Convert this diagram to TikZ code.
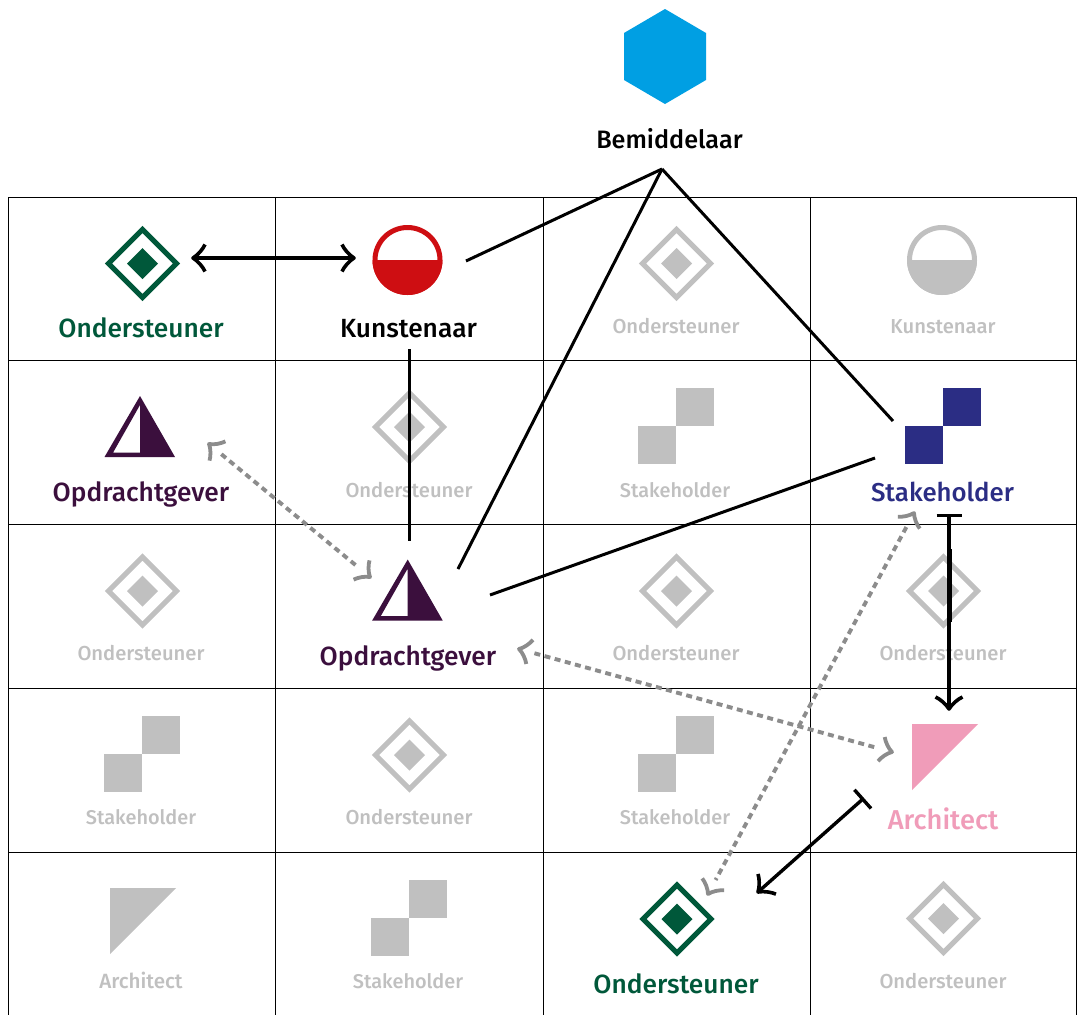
\documentclass[tikz,border=0pt]{standalone}
\usepackage{fontspec}
\setmainfont{Fira Sans}
\newfontfamily\labelfont{Fira Sans Medium}
\usetikzlibrary{arrows.meta}
\definecolor{cgreen}{HTML}{00583A}
\definecolor{cpurple}{HTML}{3B0F3D}
\definecolor{cblue}{HTML}{2B2D84}
\definecolor{cred}{HTML}{CE0E12}
\definecolor{cpink}{HTML}{F09CB9}
\definecolor{cgrey}{HTML}{C0C0C0}
\definecolor{chex}{HTML}{009FE3}
\definecolor{cdash}{HTML}{8C8C8C}
\pgfdeclarearrow{
  name=BarbSolid, cache=false,
  setup code={\pgfarrowssettipend{0pt}\pgfarrowssetbackend{-12pt}\pgfarrowssetlineend{-1pt}\pgfarrowssetvisualbackend{-1pt}},
  drawing code={
    \pgfsetroundjoin\pgfsetbuttcap\pgfsetdash{}{0pt}\pgfsetlinewidth{3.6pt}
    \pgfpathmoveto{\pgfqpoint{-12pt}{13.5pt}}
    \pgfpathcurveto{\pgfqpoint{-10pt}{9pt}}{\pgfqpoint{-5pt}{3pt}}{\pgfqpoint{0pt}{0pt}}
    \pgfpathcurveto{\pgfqpoint{-5pt}{-3pt}}{\pgfqpoint{-10pt}{-9pt}}{\pgfqpoint{-12pt}{-13.5pt}}
    \pgfusepathqstroke}
}
\pgfdeclarearrow{
  name=BarbDash, cache=false,
  setup code={\pgfarrowssettipend{0pt}\pgfarrowssetbackend{-12pt}\pgfarrowssetlineend{-16pt}\pgfarrowssetvisualbackend{-16pt}},
  drawing code={
    \pgfsetroundjoin\pgfsetbuttcap\pgfsetdash{}{0pt}\pgfsetlinewidth{3.8pt}
    \pgfpathmoveto{\pgfqpoint{-11pt}{12.5pt}}
    \pgfpathcurveto{\pgfqpoint{-9pt}{8pt}}{\pgfqpoint{-4.5pt}{2.5pt}}{\pgfqpoint{0pt}{0pt}}
    \pgfpathcurveto{\pgfqpoint{-4.5pt}{-2.5pt}}{\pgfqpoint{-9pt}{-8pt}}{\pgfqpoint{-11pt}{-12.5pt}}
    \pgfusepathqstroke}
}
\newcommand{\IconDiamond}[3]{%
  \draw[#3,line width=5pt,miter limit=10] (#1-34,#2) -- (#1,#2-34) -- (#1+34,#2) -- (#1,#2+34) -- cycle;
  \fill[#3] (#1-15.5,#2) -- (#1,#2-15.5) -- (#1+15.5,#2) -- (#1,#2+15.5) -- cycle;}
\newcommand{\IconCircle}[3]{%
  \fill[#3] (#1-35,#2) arc[start angle=180,end angle=360,x radius=35pt,y radius=35pt] -- cycle;
  \draw[#3,line width=5pt] (#1,#2) circle[radius=32.5pt];}
\newcommand{\IconTri}[3]{%
  \fill[#3,even odd rule] (#1,#2) -- (#1+35,#2+61) -- (#1-35.5,#2+61) -- cycle
     (#1,#2+9) -- (#1,#2+56.7) -- (#1-27,#2+56.7) -- cycle;}
\newcommand{\IconStake}[3]{%
  \fill[#3] (#1-38,#2) rectangle (#1,#2+38);
  \fill[#3] (#1,#2-38) rectangle (#1+38,#2);}
\newcommand{\IconArch}[3]{%
  \fill[#3] (#1-32,#2) -- (#1+34,#2) -- (#1-32,#2+66) -- cycle;}
\tikzset{
  gridline/.style={line width=1pt,black},
  biglabel/.style={font=\fontsize{#1}{30}\labelfont,inner sep=0pt,anchor=base},
  biglabel/.default=26.3,
  smalllabel/.style={font=\fontsize{#1}{24}\labelfont,inner sep=0pt,anchor=base,text=cgrey},
  smalllabel/.default=20.2,
  assoc/.style={line width=3pt,black},
  solidarrow/.style={line width=3.4pt,black},
  dasharrow/.style={line width=3.9pt,cdash,dash pattern=on 6pt off 4.5pt},
}
\begin{document}
\begin{tikzpicture}[x=1pt,y=-1pt]
\useasboundingbox (0,0) rectangle (1077,1015);
\fill[white] (0,0) rectangle (1077,1015);
% grid
\foreach \gx in {8.5,275.5,543,810,1076.5} \draw[gridline] (\gx,197) -- (\gx,1015);
\foreach \gy in {197,360.5,524,688,852} \draw[gridline] (8.5,\gy) -- (1076.5,\gy);
% grey icons
\IconDiamond{676.5}{263.5}{cgrey}
\IconCircle{942}{260}{cgrey}
\IconDiamond{409.5}{427}{cgrey}
\IconStake{676}{426}{cgrey}
\IconDiamond{142.5}{591}{cgrey}
\IconDiamond{676.5}{591}{cgrey}
\IconDiamond{943.5}{591}{cgrey}
\IconStake{142}{754}{cgrey}
\IconDiamond{409.5}{755}{cgrey}
\IconStake{676}{754}{cgrey}
\IconArch{142}{888}{cgrey}
\IconStake{409}{918}{cgrey}
\IconDiamond{943.5}{918.5}{cgrey}
% grey labels
\node[smalllabel] (g1) at (676,333) {Ondersteuner};
\node[smalllabel] (g2) at (943,333) {Kunstenaar};
\node[smalllabel] (g3) at (409,497) {Ondersteuner};
\node[smalllabel=19.9] (g4) at (675,497) {Stakeholder};
\node[smalllabel] (g5) at (141,660) {Ondersteuner};
\node[smalllabel] (g6) at (676,660) {Ondersteuner};
\node[smalllabel] (g7) at (943,660) {Ondersteuner};
\node[smalllabel=19.9] (g8) at (141,824) {Stakeholder};
\node[smalllabel] (g9) at (409,824) {Ondersteuner};
\node[smalllabel=19.9] (g10) at (675,824) {Stakeholder};
\node[smalllabel=20.6] (g11) at (141,988) {Architect};
\node[smalllabel=19.9] (g12) at (408,988) {Stakeholder};
\node[smalllabel] (g13) at (943,988) {Ondersteuner};
% coloured icons
\fill[chex] (665,9) -- (706,33) -- (706,80) -- (665,104) -- (624,80) -- (624,33) -- cycle;
\IconDiamond{142.5}{263.5}{cgreen}
\IconCircle{407.5}{260}{cred}
\IconTri{140}{396}{cpurple}
\IconTri{407.7}{559.5}{cpurple}
\IconStake{943}{426}{cblue}
\IconArch{944}{724}{cpink}
\IconDiamond{677}{919}{cgreen}
% coloured labels
\node[biglabel=25.2,text=black] (bem) at (669.5,148) {Bemiddelaar};
\node[biglabel,text=cgreen] (ond1) at (141,337) {Ondersteuner};
\node[biglabel,text=black] (kun) at (408.5,337) {Kunstenaar};
\node[biglabel,text=cpurple] (opd1) at (141,501) {Opdrachtgever};
\node[biglabel=25.8,text=cblue] (sta) at (942.5,501) {Stakeholder};
\node[biglabel,text=cpurple] (opd2) at (408,665) {Opdrachtgever};
\node[biglabel=27.3,text=cpink] (arc) at (943,829) {Architect};
\node[biglabel,text=cgreen] (ond2) at (676,993) {Ondersteuner};
% connector ends
\coordinate (bemA) at (662,169);
\coordinate (kunR) at (466,261);
\coordinate (kunB) at (409,349);
\coordinate (kunL) at (354,258);
\coordinate (ondR) at (193,258);
\coordinate (opdT) at (409,541);
\coordinate (opdTR) at (458,569);
\coordinate (opdR) at (490,595);
\coordinate (opdTL) at (370,577);
\coordinate (opdBR) at (519,649);
\coordinate (opdOne) at (209,444);
\coordinate (staL) at (875,458);
\coordinate (staTL) at (893,421);
\coordinate (staB) at (949,514);
\coordinate (staBL) at (914,513);
\coordinate (arcT) at (949,709);
\coordinate (arcL) at (892,752);
\coordinate (arcBL) at (864,798);
\coordinate (ondTR) at (708,894);
\coordinate (ondTRb) at (758,892);
% connectors
\draw[assoc] (bemA) -- (kunR);
\draw[assoc] (bemA) -- (opdTR);
\draw[assoc] (bemA) -- (staTL);
\draw[assoc] (kunB) -- (opdT);
\draw[assoc] (staL) -- (opdR);
\draw[solidarrow,{BarbSolid}-{BarbSolid}] (ondR) -- (kunL);
\draw[dasharrow,{BarbDash}-{BarbDash}] (opdOne) -- (opdTL);
\draw[dasharrow,{BarbDash}-{BarbDash}] (opdBR) -- (arcL);
\draw[dasharrow,{BarbDash}-{BarbDash}] (staBL) -- (ondTR);
\draw[solidarrow,{Bar[width=25pt,line width=3.4pt]}-{BarbSolid}] (staB) -- (arcT);
\draw[solidarrow,{Bar[width=25pt,line width=3.4pt]}-{BarbSolid}] (arcBL) -- (ondTRb);
\draw[line width=4.8pt,black] (949.5,549) -- (949.5,622);
\end{tikzpicture}
\end{document}
